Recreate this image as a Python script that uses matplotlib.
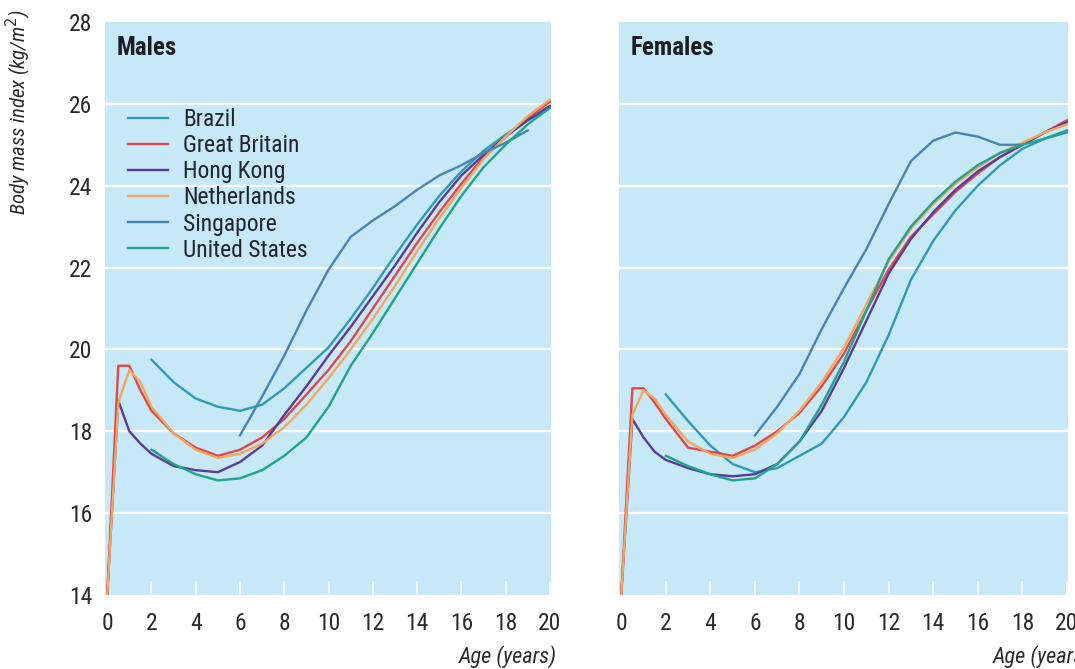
import os
import matplotlib
matplotlib.use("Agg")
import matplotlib.pyplot as plt
from matplotlib import font_manager
from matplotlib.font_manager import FontProperties

countries = ["Brazil", "Great Britain", "Hong Kong", "Netherlands", "Singapore", "United States"]
colors = ["#2f9ab6", "#e2464c", "#5a3c98", "#f3a75c", "#4a84b2", "#1fa38c"]

# ages for the birth cohorts, for the 2-20 surveys and for Singapore
age_birth = [0, 0.5, 1, 1.5, 2, 3, 4, 5, 6, 7, 8, 9, 10, 11, 12, 13, 14, 15, 16, 17, 18, 19, 20]
age_2 = [2, 3, 4, 5, 6, 7, 8, 9, 10, 11, 12, 13, 14, 15, 16, 17, 18, 19, 20]
age_sing_m = [6, 7, 8, 9, 10, 11, 12, 13, 14, 15, 16, 17, 18, 19]
age_sing_f = [6, 7, 8, 9, 10, 11, 12, 13, 14, 15, 16, 17, 18]

# males, BMI (kg/m2)
brazil_m = [19.75, 19.2, 18.8, 18.6, 18.5, 18.65, 19.05, 19.55, 20.05, 20.75, 21.5, 22.3, 23.05, 23.75, 24.35, 24.85, 25.25, 25.6, 25.9]
gb_m = [14.0, 19.6, 19.6, 19.0, 18.5, 17.95, 17.6, 17.4, 17.55, 17.85, 18.3, 18.9, 19.5, 20.2, 21.0, 21.8, 22.6, 23.35, 24.05, 24.7, 25.2, 25.65, 26.05]
hk_m = [14.0, 18.75, 18.0, 17.7, 17.45, 17.15, 17.05, 17.0, 17.25, 17.65, 18.4, 19.1, 19.85, 20.55, 21.3, 22.05, 22.85, 23.6, 24.25, 24.75, 25.2, 25.6, 25.95]
nl_m = [14.0, 18.7, 19.5, 19.2, 18.6, 17.95, 17.55, 17.35, 17.45, 17.7, 18.1, 18.65, 19.3, 20.0, 20.75, 21.55, 22.4, 23.2, 23.95, 24.65, 25.2, 25.7, 26.1]
sing_m = [17.9, 18.85, 19.85, 20.95, 21.95, 22.75, 23.15, 23.5, 23.9, 24.25, 24.5, 24.8, 25.05, 25.35]
us_m = [17.55, 17.2, 16.95, 16.8, 16.85, 17.05, 17.4, 17.85, 18.6, 19.6, 20.4, 21.25, 22.1, 22.95, 23.75, 24.45, 25.0, 25.5, 25.9]

# females, BMI (kg/m2)
brazil_f = [18.9, 18.25, 17.65, 17.2, 17.0, 17.1, 17.4, 17.7, 18.35, 19.2, 20.35, 21.7, 22.65, 23.4, 24.0, 24.5, 24.9, 25.15, 25.35]
gb_f = [14.0, 19.05, 19.05, 18.7, 18.3, 17.6, 17.5, 17.4, 17.65, 18.0, 18.45, 19.1, 19.9, 20.95, 21.95, 22.75, 23.3, 23.85, 24.3, 24.7, 25.0, 25.3, 25.6]
hk_f = [14.0, 18.3, 17.85, 17.5, 17.3, 17.1, 16.95, 16.9, 16.95, 17.2, 17.75, 18.5, 19.55, 20.7, 21.85, 22.7, 23.35, 23.9, 24.35, 24.7, 25.0, 25.3, 25.55]
nl_f = [14.0, 18.4, 19.0, 18.8, 18.4, 17.75, 17.45, 17.35, 17.55, 17.95, 18.5, 19.2, 20.05, 21.1, 22.15, 22.95, 23.55, 24.05, 24.45, 24.8, 25.05, 25.3, 25.5]
sing_f = [17.9, 18.6, 19.4, 20.5, 21.5, 22.45, 23.55, 24.6, 25.1, 25.3, 25.2, 25.0, 25.0]
us_f = [17.4, 17.15, 16.95, 16.8, 16.85, 17.2, 17.75, 18.65, 19.7, 20.95, 22.2, 23.0, 23.6, 24.1, 24.5, 24.8, 25.0, 25.15, 25.3]

males = [(age_2, brazil_m), (age_birth, gb_m), (age_birth, hk_m),
         (age_birth, nl_m), (age_sing_m, sing_m), (age_2, us_m)]
females = [(age_2, brazil_f), (age_birth, gb_f), (age_birth, hk_f),
           (age_birth, nl_f), (age_sing_f, sing_f), (age_2, us_f)]

# narrow type faces, first one found wins
files = {os.path.basename(f.fname): f.fname for f in font_manager.fontManager.ttflist}


def pick(cands, **fallback):
    for c in cands:
        if c in files:
            return FontProperties(fname=files[c])
    return FontProperties(family="Liberation Sans", **fallback)


fp_reg = pick(["LiberationSansNarrow-Regular.ttf", "RobotoCondensed-Regular.ttf",
               "NotoSans-Condensed.ttf", "OpenSans_Condensed-Regular.ttf",
               "DejaVuSansCondensed.ttf"])
fp_bold = pick(["LiberationSansNarrow-Bold.ttf", "RobotoCondensed-Bold.ttf",
                "NotoSans-CondensedBold.ttf", "OpenSans_Condensed-Bold.ttf",
                "OpenSans-CondBold.ttf", "DejaVuSansCondensed-Bold.ttf"], weight="bold")
fp_ital = pick(["LiberationSansNarrow-Italic.ttf", "RobotoCondensed-Italic.ttf",
                "NotoSans-CondensedItalic.ttf", "OpenSans_Condensed-Italic.ttf",
                "DejaVuSansCondensed-Oblique.ttf"], style="italic")

W, H = 1075, 669
fig = plt.figure(figsize=(W / 100, H / 100), dpi=100)
renderer = fig.canvas.get_renderer()


def sized(fp, s, width_px, max_pt):
    # font size that makes s about width_px wide, capped by max_pt
    p = fp.copy()
    p.set_size(10)
    w = renderer.get_text_width_height_descent(s, p, ismath=False)[0]
    p.set_size(min(10 * width_px / w, max_pt))
    return p


fp_tick = sized(fp_reg, "10", 23, 18)
fp_leg = sized(fp_reg, "Great Britain", 120, 17)
fp_males = sized(fp_bold, "Males", 60, 19)
fp_fem = sized(fp_bold, "Females", 83, 19)
fp_age = sized(fp_ital, "Age (years)", 98, 16)
fp_ylab = sized(fp_ital, "Body mass index (kg/m2)", 205, 15)

panel_bg = "#c6e8f7"
txt = "#2a2a2a"

ax_m = fig.add_axes([105 / W, 74 / H, 446 / W, 573 / H])
ax_f = fig.add_axes([619 / W, 74 / H, 449 / W, 573 / H])

for ax, data, title, fpt, age_end in [(ax_m, males, "Males", fp_males, 1.013),
                                      (ax_f, females, "Females", fp_fem, 1.05)]:
    ax.set_facecolor(panel_bg)
    for s in ax.spines.values():
        s.set_visible(False)
    ax.set_xlim(-0.1, 20.05)
    ax.set_ylim(14, 28)
    for g in [16, 18, 20, 22, 24, 26]:
        ax.axhline(g, color="white", lw=1.6, zorder=1)
    for (x, y), c, name in zip(data, colors, countries):
        ax.plot(x, y, color=c, lw=1.7, label=name, zorder=3)
    xt = list(range(0, 21, 2))
    ax.set_xticks(xt, [str(v) for v in xt], fontproperties=fp_tick, color=txt)
    yt = list(range(14, 29, 2))
    ax.set_yticks(yt, [str(v) for v in yt], fontproperties=fp_tick, color=txt)
    ax.tick_params(axis="x", direction="in", length=10, width=1.2, color="white", pad=12)
    ax.tick_params(axis="y", length=0, pad=9)
    ax.text(0.027, 0.975, title, transform=ax.transAxes, fontproperties=fpt,
            color="#1c1c24", va="top", ha="left")
    ax.text(age_end, -0.108, "Age (years)", transform=ax.transAxes, fontproperties=fp_age,
            color=txt, ha="right", va="center")

ax_f.tick_params(axis="y", labelleft=False)

fs_px = fp_leg.get_size_in_points() * 100 / 72
ax_m.legend(loc="upper left", bbox_to_anchor=(23 / 446, 0.85), frameon=False,
            prop=fp_leg, handlelength=40 / fs_px, handletextpad=15 / fs_px,
            labelspacing=max(0.0, (29.6 - 1.12 * fs_px) / fs_px), borderpad=0,
            borderaxespad=0, labelcolor="#1f2430")

fig.text(18 / W, 1 - 112 / H, "Body mass index (kg/m$^2$)", rotation=90,
         fontproperties=fp_ylab, color=txt, ha="center", va="center")

fig.savefig("out.png", dpi=100, facecolor="white")
